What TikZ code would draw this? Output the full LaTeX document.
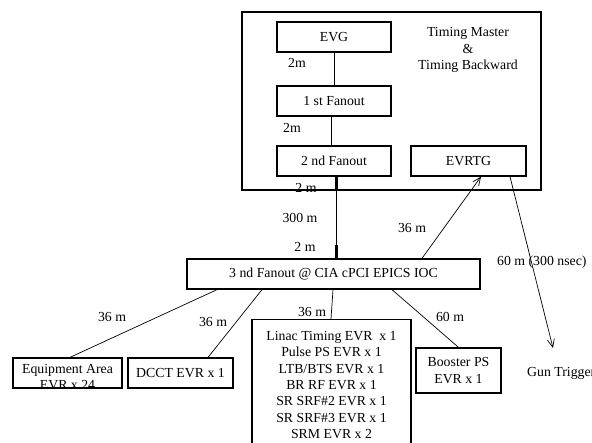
\documentclass[tikz,border=0pt]{standalone}
\usepackage{fontspec}
\setmainfont{Liberation Serif}
\usetikzlibrary{arrows.meta}
\begin{document}
\begin{tikzpicture}[x=1pt,y=-1pt,
  font=\fontsize{13.8}{16.4}\selectfont,
  box/.style={draw, line width=1.3pt, inner sep=0pt, align=center},
  conn/.style={draw, line width=0.7pt},
  arr/.style={conn, -{Straight Barb[length=8pt,width=7pt]}},
  thickseg/.style={draw, line width=3pt},
  lbl/.style={inner sep=0pt}]
\useasboundingbox (0,0) rectangle (592,443);
% frame
\node[box, minimum width=299pt, minimum height=178pt] (master) at (391.5,101) {};
\node[lbl, align=center] (mtext) at (468,50) {Timing Master\\\&\\Timing Backward};
% boxes
\node[box, minimum width=114pt, minimum height=30pt] (evg) at (334,37) {EVG};
\node[box, minimum width=114pt, minimum height=30pt] (fan1) at (334,101) {1 st Fanout};
\node[box, minimum width=114pt, minimum height=30pt] (fan2) at (334,161) {2 nd Fanout};
\node[box, minimum width=115pt, minimum height=30pt] (evrtg) at (468.5,161) {EVRTG};
\node[box, minimum width=293pt, minimum height=30pt] (fan3) at (333.5,274) {3 nd Fanout @ CIA cPCI EPICS IOC};
\node[box, minimum width=109pt, minimum height=30pt] (eq) at (67.5,373) {};
\node[lbl, align=center] (eqtext) at (67.5,377) {Equipment Area\\EVR x 24};
\node[box, minimum width=105pt, minimum height=30pt] (dcct) at (180.5,373) {DCCT EVR x 1};
\node[box, anchor=north, minimum width=159pt, minimum height=150pt] (linac) at (331.5,319) {};
\node[lbl, anchor=north, align=center] (linactext) at (331.5,331) {Linac Timing EVR~~x 1\\Pulse PS EVR x 1\\LTB/BTS EVR x 1\\BR RF EVR x 1\\SR SRF\#2 EVR x 1\\SR SRF\#3 EVR x 1\\SRM EVR x 2};
\node[box, minimum width=85pt, minimum height=45pt] (booster) at (458.5,370.5) {Booster PS\\EVR x 1};
\coordinate (gun) at (553,348);
\node[lbl, anchor=west] (guntext) at (527,373) {Gun Trigger};
% connectors
\draw[conn] (evg) -- (fan1);
\draw[conn] ([xshift=-3pt]fan1.south) -- ([xshift=-3pt]fan2.north);
\draw[conn] ([xshift=2pt]fan2.south) -- ([xshift=2.5pt]fan3.north);
\draw[thickseg] ([xshift=2pt]fan2.south) -- ++(0,14);
\draw[thickseg] ([xshift=2.5pt]fan3.north) -- ++(0,-13);
\draw[arr] ([xshift=88.5pt]fan3.north) -- ([xshift=12.5pt]evrtg.south);
\draw[arr] ([xshift=41.5pt]evrtg.south) -- (gun);
\draw[conn] ([xshift=-116.5pt]fan3.south) -- ([xshift=2.5pt]eq.north);
\draw[conn] ([xshift=-71.5pt]fan3.south) -- ([xshift=27.5pt]dcct.north);
\draw[conn] ([xshift=-0.5pt]fan3.south) -- ([xshift=-0.5pt]linac.north);
\draw[conn] ([xshift=58.5pt]fan3.south) -- (booster.north);
% labels
\node[lbl] (l1) at (297,63) {2m};
\node[lbl] (l2) at (292,128) {2m};
\node[lbl] (l3) at (306,188) {2 m};
\node[lbl] (l4) at (300,218) {300 m};
\node[lbl] (l5) at (305,247) {2 m};
\node[lbl] (l6) at (412,228) {36 m};
\node[lbl, anchor=west] (l7) at (497,262) {60 m (300 nsec)};
\node[lbl] (l8) at (112,317) {36 m};
\node[lbl] (l9) at (213,322) {36 m};
\node[lbl] (l10) at (312,312) {36 m};
\node[lbl] (l11) at (450,317) {60 m};
\end{tikzpicture}
\end{document}
